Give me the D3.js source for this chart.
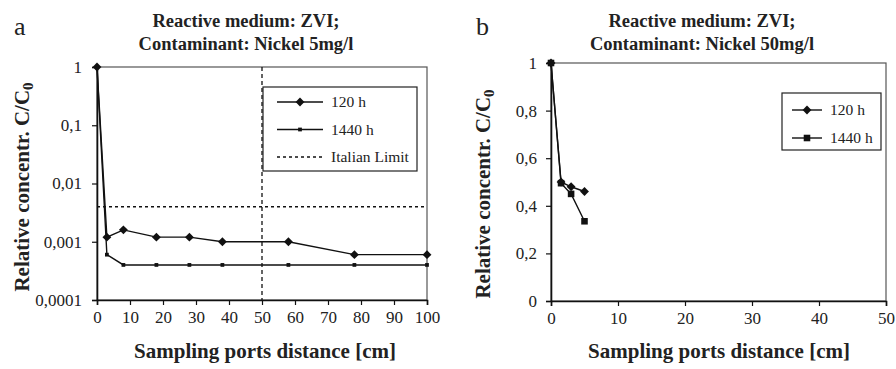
<!DOCTYPE html>
<html>
<head>
<meta charset="utf-8">
<script src="https://cdn.jsdelivr.net/npm/d3@7"></script>
<style>
  body { margin: 0; background: #fff; }
  svg { display: block; }
  text { font-family: "Liberation Serif", "Times New Roman", serif; fill: #222; }
</style>
</head>
<body>
<svg id="chart" width="896" height="369" font-family="Liberation Serif"></svg>
<script>
// Panel a data (log scale)
var distA120 = [0, 3, 8, 18, 28, 38, 58, 78, 100];
var concA120 = [1, 0.0012, 0.0016, 0.0012, 0.0012, 0.001, 0.001, 0.0006, 0.0006];
var distA1440 = [0, 3, 8, 18, 28, 38, 58, 78, 100];
var concA1440 = [1, 0.0006, 0.0004, 0.0004, 0.0004, 0.0004, 0.0004, 0.0004, 0.0004];
var italianLimit = 0.004;
var markerX = 50;
var yTicksA = [1, 0.1, 0.01, 0.001, 0.0001];
var yTickLabelsA = ['1', '0,1', '0,01', '0,001', '0,0001'];
var xTicksA = [0, 10, 20, 30, 40, 50, 60, 70, 80, 90, 100];

// Panel b data (linear scale)
var distB120 = [0, 1.5, 3, 5];
var concB120 = [1, 0.5, 0.48, 0.46];
var distB1440 = [0, 1.5, 3, 5];
var concB1440 = [1, 0.495, 0.45, 0.335];
var yTicksB = [0, 0.2, 0.4, 0.6, 0.8, 1];
var xTicksB = [0, 10, 20, 30, 40, 50];

var FONT = 'Liberation Serif';
var svg = d3.select('#chart');
var fmtComma = function(d) { return String(d).replace('.', ','); };

var zip = function(xs, ys) {
  return xs.map(function(x, i) { return {x: x, y: ys[i]}; });
};

var drawTitle = function(cx, letter, lx, conc) {
  svg.append('text').attr('x', lx).attr('y', 35).attr('font-size', 26).text(letter);
  svg.append('text').attr('x', cx).attr('y', 27).attr('text-anchor', 'middle')
    .attr('font-size', 18.5).attr('font-weight', 'bold').text('Reactive medium: ZVI;');
  svg.append('text').attr('x', cx).attr('y', 50).attr('text-anchor', 'middle')
    .attr('font-size', 18.5).attr('font-weight', 'bold').text('Contaminant: Nickel ' + conc);
};

var drawAxisTitles = function(g, xc, yTitleX, yc) {
  g.append('text').attr('x', xc).attr('y', 358).attr('text-anchor', 'middle')
    .attr('font-size', 21).attr('font-weight', 'bold').text('Sampling ports distance [cm]');
  var t = g.append('text')
    .attr('transform', 'translate(' + yTitleX + ',' + yc + ') rotate(-90)')
    .attr('text-anchor', 'middle').attr('font-size', 21).attr('font-weight', 'bold');
  t.append('tspan').text('Relative concentr. C/C');
  t.append('tspan').attr('dy', 4).attr('font-size', 15).text('0');
};

var drawFrame = function(g, x0, x1, y0, y1) {
  g.append('rect').attr('x', x0).attr('y', y0).attr('width', x1 - x0).attr('height', y1 - y0)
    .attr('fill', 'none').attr('stroke', '#555').attr('stroke-width', 1.2);
};

var styleAxis = function(sel) {
  sel.attr('font-family', FONT);
  sel.select('.domain').attr('stroke', '#111').attr('stroke-width', 1.6);
  sel.selectAll('.tick line').attr('stroke', '#111').attr('stroke-width', 1.2);
  sel.selectAll('.tick text').attr('font-family', FONT)
    .attr('font-size', 17).attr('fill', '#222');
};

var diamond = d3.symbol().type(d3.symbolDiamond2);
var square = d3.symbol().type(d3.symbolSquare2);

var drawSeries = function(g, data, x, y, sym, size) {
  g.append('path').datum(data)
    .attr('fill', 'none').attr('stroke', '#111').attr('stroke-width', 1.4)
    .attr('d', d3.line().x(function(d) { return x(d.x); }).y(function(d) { return y(d.y); }));
  g.selectAll(null).data(data).enter().append('path')
    .attr('d', sym.size(size)())
    .attr('transform', function(d) { return 'translate(' + x(d.x) + ',' + y(d.y) + ')'; })
    .attr('fill', '#111');
};

// ---------- Panel a ----------
var aL = 97, aR = 427, aT = 67, aB = 300;
var gA = svg.append('g');
drawTitle(246, 'a', 14, '5mg/l');
var xA = d3.scaleLinear().domain([0, 100]).range([aL, aR]);
var yA = d3.scaleLog().domain([0.0001, 1]).range([aB, aT]);
drawFrame(gA, aL, aR, aT, aB);

gA.append('line').attr('x1', xA(markerX)).attr('x2', xA(markerX))
  .attr('y1', aT).attr('y2', aB)
  .attr('stroke', '#111').attr('stroke-width', 1.3).attr('stroke-dasharray', '4,3');
gA.append('line').attr('x1', aL).attr('x2', aR)
  .attr('y1', yA(italianLimit)).attr('y2', yA(italianLimit))
  .attr('stroke', '#111').attr('stroke-width', 1.5).attr('stroke-dasharray', '3,3');

gA.append('g').attr('transform', 'translate(0,' + aB + ')')
  .call(d3.axisBottom(xA).tickValues(xTicksA).tickSize(5).tickPadding(6))
  .call(styleAxis);
gA.append('g').attr('transform', 'translate(' + aL + ',0)')
  .call(d3.axisLeft(yA).tickValues(yTicksA).tickSize(5).tickPadding(10)
    .tickFormat(function(d, i) { return yTickLabelsA[i]; }))
  .call(styleAxis);

drawSeries(gA, zip(distA1440, concA1440), xA, yA, square, 18);
drawSeries(gA, zip(distA120, concA120), xA, yA, diamond, 50);
drawAxisTitles(gA, 265, 29, 187);

// legend a
var legA = gA.append('g');
legA.append('rect').attr('x', 263).attr('y', 87).attr('width', 154).attr('height', 84)
  .attr('fill', '#fff').attr('stroke', '#222').attr('stroke-width', 1.2);
var legItemsA = [
  {label: '120 h', sym: diamond, size: 50, dash: null},
  {label: '1440 h', sym: square, size: 18, dash: null},
  {label: 'Italian Limit', sym: null, size: 0, dash: '3,3'}
];
legItemsA.forEach(function(it, i) {
  var yy = 102 + i * 27.5;
  legA.append('line').attr('x1', 277).attr('x2', 323).attr('y1', yy).attr('y2', yy)
    .attr('stroke', '#111').attr('stroke-width', 1.4).attr('stroke-dasharray', it.dash);
  if (it.sym) {
    legA.append('path').attr('d', it.sym.size(it.size)())
      .attr('transform', 'translate(300,' + yy + ')').attr('fill', '#111');
  }
  legA.append('text').attr('x', 331).attr('y', yy + 5).attr('font-family', FONT)
    .attr('font-size', 15.5).text(it.label);
});

// ---------- Panel b ----------
var bL = 551, bR = 886, bT = 63, bB = 301;
var gB = svg.append('g');
drawTitle(702, 'b', 476, '50mg/l');
var xB = d3.scaleLinear().domain([0, 50]).range([bL, bR]);
var yB = d3.scaleLinear().domain([0, 1]).range([bB, bT]);
drawFrame(gB, bL, bR, bT, bB);

gB.append('g').attr('transform', 'translate(0,' + bB + ')')
  .call(d3.axisBottom(xB).tickValues(xTicksB).tickSize(5).tickPadding(6))
  .call(styleAxis);
gB.append('g').attr('transform', 'translate(' + bL + ',0)')
  .call(d3.axisLeft(yB).tickValues(yTicksB).tickSize(5).tickPadding(9).tickFormat(fmtComma))
  .call(styleAxis);

drawSeries(gB, zip(distB120, concB120), xB, yB, diamond, 50);
drawSeries(gB, zip(distB1440, concB1440), xB, yB, square, 55);
drawAxisTitles(gB, 719, 490, 194);

// legend b
var legB = gB.append('g');
legB.append('rect').attr('x', 782).attr('y', 93).attr('width', 99).attr('height', 57)
  .attr('fill', '#fff').attr('stroke', '#222').attr('stroke-width', 1.2);
var legItemsB = [
  {label: '120 h', sym: diamond, size: 50},
  {label: '1440 h', sym: square, size: 55}
];
legItemsB.forEach(function(it, i) {
  var yy = 110 + i * 28;
  legB.append('line').attr('x1', 792).attr('x2', 822).attr('y1', yy).attr('y2', yy)
    .attr('stroke', '#111').attr('stroke-width', 1.4);
  legB.append('path').attr('d', it.sym.size(it.size)())
    .attr('transform', 'translate(807,' + yy + ')').attr('fill', '#111');
  legB.append('text').attr('x', 830).attr('y', yy + 5).attr('font-family', FONT)
    .attr('font-size', 15.5).text(it.label);
});
</script>
</body>
</html>
